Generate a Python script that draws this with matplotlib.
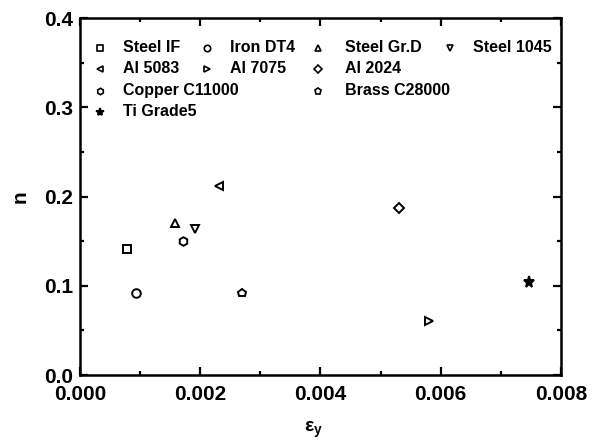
import matplotlib
matplotlib.use("Agg")
import matplotlib.pyplot as plt
from matplotlib.ticker import MultipleLocator

plt.rcParams["font.family"] = ["Liberation Sans", "DejaVu Sans"]
plt.rcParams["font.weight"] = "bold"
plt.rcParams["mathtext.fontset"] = "custom"
plt.rcParams["mathtext.rm"] = "Liberation Sans:bold"
plt.rcParams["mathtext.bf"] = "Liberation Sans:bold"

# data
materials = ["Steel IF", "Iron DT4", "Steel Gr.D", "Steel 1045",
             "Al 5083", "Al 7075", "Al 2024",
             "Copper C11000", "Brass C28000", "Ti Grade5"]
eps_y = [0.00078, 0.00093, 0.00158, 0.00191, 0.00232,
         0.00580, 0.00530, 0.00172, 0.00270, 0.00747]
n_val = [0.141, 0.092, 0.171, 0.164, 0.212,
         0.060, 0.187, 0.150, 0.092, 0.104]
markers = ["s", "o", "^", "v", "<", ">", "D", "h", "p", "*"]

# legend layout (row, column) like the Origin legend
leg_row = [0, 0, 0, 0, 1, 1, 1, 2, 2, 3]
leg_col = [0, 1, 2, 3, 0, 1, 2, 0, 2, 0]
col_mx = [0.042, 0.264, 0.495, 0.769]
col_tx = [0.089, 0.312, 0.551, 0.817]
row_y = [0.917, 0.858, 0.797, 0.738]

fig = plt.figure(figsize=(6, 4.44), dpi=100)
ax = fig.add_axes([0.1333, 0.1554, 0.8017, 0.8034])


def msize(m, base):
    if m == "*":
        return base * 1.3
    if m == "D":
        return base * 0.8
    if m == "s":
        return base * 0.85
    return base


for name, x, y, m in zip(materials, eps_y, n_val, markers):
    ax.plot(x, y, linestyle="none", marker=m, markersize=msize(m, 6.2),
            markerfacecolor="white" if m != "*" else "black",
            markeredgecolor="black", markeredgewidth=1.4)

for name, m, r, c in zip(materials, markers, leg_row, leg_col):
    ax.plot(col_mx[c], row_y[r], transform=ax.transAxes, linestyle="none",
            marker=m, markersize=msize(m, 4.6),
            markerfacecolor="white" if m != "*" else "black",
            markeredgecolor="black", markeredgewidth=1.2, clip_on=False)
    ax.text(col_tx[c], row_y[r], name, transform=ax.transAxes,
            ha="left", va="center", fontsize=11.5, fontweight="bold")

ax.set_xlim(0, 0.008)
ax.set_ylim(0, 0.4)
ax.xaxis.set_major_locator(MultipleLocator(0.002))
ax.xaxis.set_minor_locator(MultipleLocator(0.001))
ax.yaxis.set_major_locator(MultipleLocator(0.1))
ax.yaxis.set_minor_locator(MultipleLocator(0.05))
ax.xaxis.set_major_formatter(lambda v, p: f"{v:.3f}")
ax.yaxis.set_major_formatter(lambda v, p: f"{v:.1f}")

ax.tick_params(which="both", direction="in", top=True, right=True,
               width=1.6, labelsize=15)
ax.tick_params(which="major", length=5.5)
ax.tick_params(which="minor", length=3)
ax.tick_params(axis="x", pad=7.5)
ax.tick_params(axis="y", pad=5)
for sp in ax.spines.values():
    sp.set_linewidth(1.8)

ax.set_xlabel(r"$\mathrm{\epsilon}_\mathrm{y}$", fontsize=14)
ax.xaxis.set_label_coords(0.485, -0.125)
ax.set_ylabel("n", fontsize=15, fontweight="bold", labelpad=10)

fig.savefig("out.png", dpi=100)
